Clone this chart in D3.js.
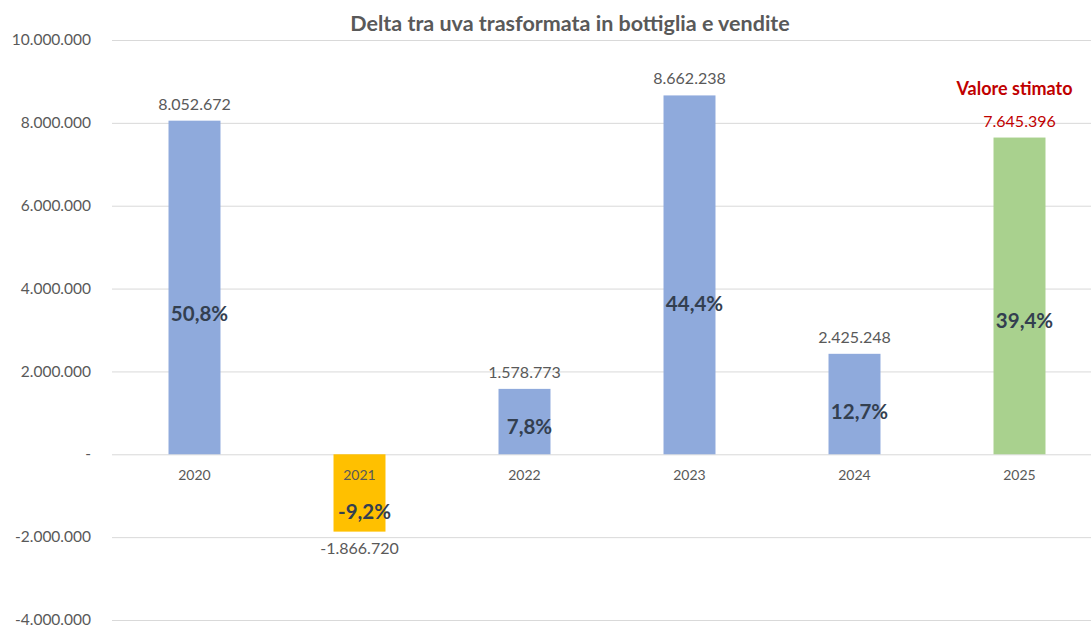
<!DOCTYPE html>
<html>
<head>
<meta charset="utf-8">
<script src="https://cdn.jsdelivr.net/npm/d3@7"></script>
<style>
  html, body { margin: 0; padding: 0; background: #fff; overflow: hidden; }
  svg { display: block; }
</style>
</head>
<body>
<div id="chart"></div>
<script>
// data
const years = ['2020', '2021', '2022', '2023', '2024', '2025'];
const deltas = [8052672, -1866720, 1578773, 8662238, 2425248, 7645396];
const percents = ['50,8%', '-9,2%', '7,8%', '44,4%', '12,7%', '39,4%'];
const estimated = [false, false, false, false, false, true];
const yTicks = [-4000000, -2000000, 0, 2000000, 4000000, 6000000, 8000000, 10000000];

const width = 1091;
const height = 628;
const font = 'Lato, "Open Sans", sans-serif';

const svg = d3.select('#chart')
    .append('svg')
    .attr('width', width)
    .attr('height', height)
    .attr('font-family', font);

const x = d3.scaleBand()
    .domain(years)
    .range([112, 1102])
    .paddingInner(0.685)
    .paddingOuter(0.3425);

const y = d3.scaleLinear()
    .domain([-4000000, 10000000])
    .range([620, 40]);

const fmt = (v) => {
  if (v === 0) return '-';
  const s = d3.format(',')(Math.abs(v)).replace(/,/g, '.');
  return (v < 0 ? '-' : '') + s;
};

// grid + y labels
const yAxis = d3.axisLeft(y)
    .tickValues(yTicks)
    .tickSize(-(width - 112))
    .tickFormat(fmt);

svg.append('g')
    .attr('transform', 'translate(112,0)')
    .call(yAxis)
    .call((g) => g.select('.domain').remove())
    .call((g) => g.selectAll('.tick line').attr('stroke', '#d9d9d9'))
    .call((g) => g.selectAll('.tick text')
        .attr('x', -21)
        .attr('dy', '0.3em')
        .attr('fill', '#595959')
        .attr('font-size', 15.5)
        .attr('font-family', font));

// title
svg.append('text')
    .attr('x', 570)
    .attr('y', 31)
    .attr('text-anchor', 'middle')
    .attr('font-size', 21.5)
    .attr('font-weight', 'bold')
    .attr('fill', '#595959')
    .text('Delta tra uva trasformata in bottiglia e vendite');

const color = (d, i) => estimated[i] ? '#a9d18e' : (d < 0 ? '#ffc000' : '#8faadc');

// bars
svg.append('g')
    .selectAll('rect')
    .data(deltas)
    .join('rect')
    .attr('x', (d, i) => x(years[i]))
    .attr('width', x.bandwidth())
    .attr('y', (d) => y(Math.max(0, d)))
    .attr('height', (d) => Math.abs(y(d) - y(0)))
    .attr('fill', color);

// category labels
svg.append('g')
    .selectAll('text')
    .data(years)
    .join('text')
    .attr('x', (d) => x(d) + x.bandwidth() / 2)
    .attr('y', y(0) + 26)
    .attr('text-anchor', 'middle')
    .attr('font-size', 14)
    .attr('fill', '#595959')
    .text((d) => d);

// value labels
svg.append('g')
    .selectAll('text')
    .data(deltas)
    .join('text')
    .attr('x', (d, i) => x(years[i]) + x.bandwidth() / 2)
    .attr('y', (d) => d >= 0 ? y(d) - 11 : y(d) + 22)
    .attr('text-anchor', 'middle')
    .attr('font-size', 16)
    .attr('fill', (d, i) => estimated[i] ? '#c00000' : '#595959')
    .text(fmt);

// percent labels
svg.append('g')
    .selectAll('text')
    .data(deltas)
    .join('text')
    .attr('x', (d, i) => x(years[i]) + x.bandwidth() / 2 + 5)
    .attr('y', (d) => {
      const h = Math.abs(y(d) - y(0));
      return (y(d) + y(0)) / 2 + h * (d < 0 ? 0.25 : 0.08) + 7;
    })
    .attr('text-anchor', 'middle')
    .attr('font-size', 20.5)
    .attr('font-weight', 'bold')
    .attr('fill', '#333f50')
    .text((d, i) => percents[i]);

// estimate note
const iEst = estimated.indexOf(true);
svg.append('text')
    .attr('x', x(years[iEst]) + x.bandwidth() / 2 - 5)
    .attr('y', y(deltas[iEst]) - 43)
    .attr('text-anchor', 'middle')
    .attr('font-size', 18)
    .attr('font-weight', 'bold')
    .attr('fill', '#c00000')
    .text('Valore stimato');
</script>
</body>
</html>
